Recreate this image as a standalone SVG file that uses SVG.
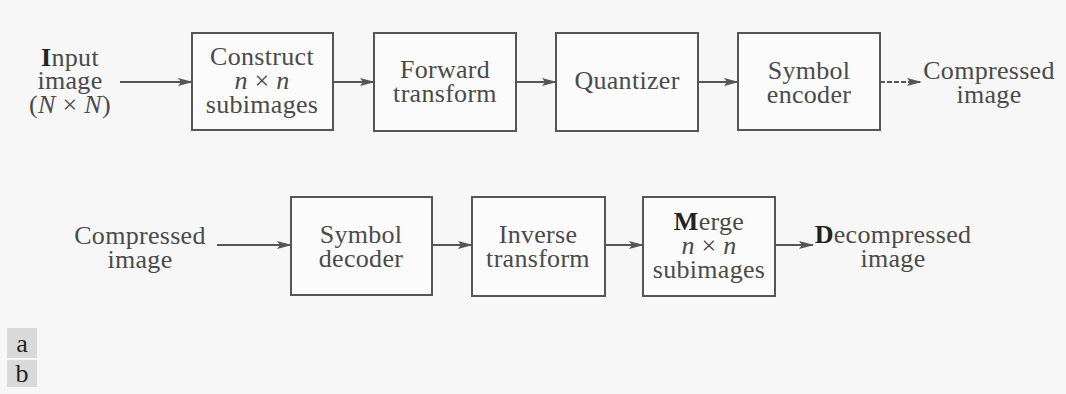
<svg xmlns="http://www.w3.org/2000/svg" width="1066" height="394" viewBox="0 0 1066 394">
<style>
.bg{fill:#f7f7f7}
.box{fill:#fbfbfb;stroke:#555;stroke-width:2}
.t{font-family:"Liberation Serif","Times New Roman",serif;font-size:26px;letter-spacing:0.3px;fill:#4a4a4a;text-anchor:middle}
.i{font-style:italic}
.b{font-weight:bold;fill:#222}
.c{stroke:#555;stroke-width:1.8;fill:none;marker-end:url(#ah)}
.lab{fill:#d9d9d9}
.lt{font-family:"Liberation Serif","Times New Roman",serif;font-size:26px;fill:#222;text-anchor:middle}
</style>
<defs>
<marker id="ah" markerWidth="15" markerHeight="10" refX="14" refY="5" orient="auto" markerUnits="userSpaceOnUse">
<path d="M0,1 L15,5 L0,9 L3,5 Z" fill="#555"/>
</marker>
</defs>
<rect class="bg" x="0" y="0" width="1066" height="394"/>
<g id="connectors">
<line class="c" x1="120" y1="82" x2="192" y2="82"/>
<line class="c" x1="333" y1="82" x2="374" y2="82"/>
<line class="c" x1="516" y1="82" x2="556" y2="82"/>
<line class="c" x1="698" y1="82" x2="738" y2="82"/>
<line class="c" x1="880" y1="82" x2="921" y2="82" stroke-dasharray="5 2"/>
<line class="c" x1="217" y1="245" x2="291" y2="245"/>
<line class="c" x1="432" y1="245" x2="472" y2="245"/>
<line class="c" x1="605" y1="245" x2="643" y2="245"/>
<line class="c" x1="775" y1="245" x2="813" y2="245"/>
</g>
<g id="input">
<text class="t" x="70" y="66"><tspan class="b">I</tspan>nput<tspan x="70" dy="23">image</tspan><tspan x="70" dy="24">(<tspan class="i">N</tspan> × <tspan class="i">N</tspan>)</tspan></text>
</g>
<g id="construct">
<rect class="box" x="192" y="33" width="141" height="97"/>
<text class="t" x="262" y="65">Construct<tspan x="262" dy="24"><tspan class="i">n</tspan> × <tspan class="i">n</tspan></tspan><tspan x="262" dy="24">subimages</tspan></text>
</g>
<g id="forward">
<rect class="box" x="374" y="33" width="142" height="98"/>
<text class="t" x="445" y="78">Forward<tspan x="445" dy="24">transform</tspan></text>
</g>
<g id="quantizer">
<rect class="box" x="556" y="33" width="142" height="98"/>
<text class="t" x="627" y="89">Quantizer</text>
</g>
<g id="encoder">
<rect class="box" x="738" y="33" width="142" height="97"/>
<text class="t" x="809" y="79">Symbol<tspan x="809" dy="24">encoder</tspan></text>
</g>
<g id="compressed-out">
<text class="t" x="989" y="79">Compressed<tspan x="989" dy="24">image</tspan></text>
</g>
<g id="compressed-in">
<text class="t" x="140" y="244">Compressed<tspan x="140" dy="24">image</tspan></text>
</g>
<g id="decoder">
<rect class="box" x="291" y="197" width="141" height="98"/>
<text class="t" x="361" y="243">Symbol<tspan x="361" dy="24">decoder</tspan></text>
</g>
<g id="inverse">
<rect class="box" x="472" y="197" width="133" height="99"/>
<text class="t" x="538" y="243">Inverse<tspan x="538" dy="24">transform</tspan></text>
</g>
<g id="merge">
<rect class="box" x="643" y="197" width="132" height="99"/>
<text class="t" x="709" y="230"><tspan class="b">M</tspan>erge<tspan x="709" dy="24"><tspan class="i">n</tspan> × <tspan class="i">n</tspan></tspan><tspan x="709" dy="24">subimages</tspan></text>
</g>
<g id="decompressed">
<text class="t" x="893" y="243"><tspan class="b">D</tspan>ecompressed<tspan x="893" dy="24">image</tspan></text>
</g>
<g id="labels">
<rect class="lab" x="7" y="328" width="30" height="30"/>
<text class="lt" x="22" y="352">a</text>
<rect class="lab" x="7" y="360" width="30" height="27"/>
<text class="lt" x="22" y="382">b</text>
</g>
</svg>
